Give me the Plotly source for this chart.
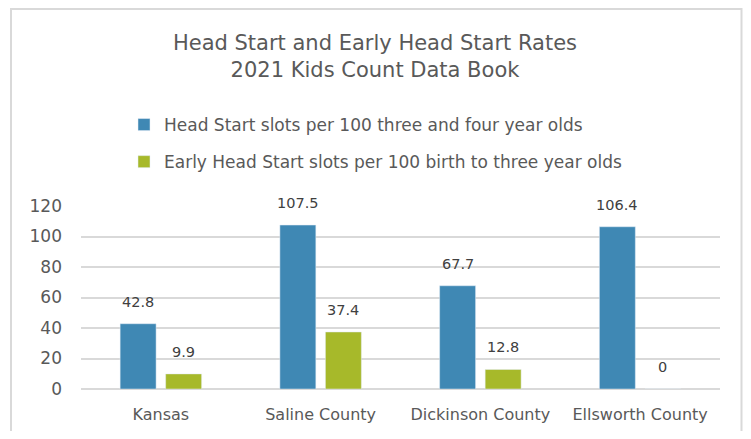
import plotly.graph_objects as go

categories = ["Kansas", "Saline County", "Dickinson County", "Ellsworth County"]
head_start = [42.8, 107.5, 67.7, 106.4]
early_head_start = [9.9, 37.4, 12.8, 0]
series_names = ["Head Start slots per 100 three and four year olds",
                "Early Head Start slots per 100 birth to three year olds"]
y_ticks = [0, 20, 40, 60, 80, 100, 120]

BLUE = "#3F88B4"
GREEN = "#A7B92A"
FONT = "DejaVu Sans"
GRAY = "#595959"

# page is offset by 8px (body margin); figure coords = page coords - 8
W, H = 735, 423
L, T, PB, PR = 73, 198, 381, 712  # plot area in figure px
PW, PH = PR - L, PB - T

fig = go.Figure()
fig.add_trace(go.Bar(x=categories, y=head_start, name=series_names[0],
                     marker=dict(color=BLUE), legendgroup="a"))
fig.add_trace(go.Bar(x=categories, y=early_head_start, name=series_names[1],
                     marker=dict(color=GREEN), legendgroup="b"))

annotations = []
for vals, shift in ((head_start, -22.75), (early_head_start, 22.75)):
    for c, v in zip(categories, vals):
        annotations.append(dict(x=c, y=v, xref="x", yref="y", text=f"{v:g}",
                                showarrow=False, xshift=shift, yshift=22,
                                yanchor="middle",
                                font=dict(family=FONT, size=14.5, color="#404040")))

fig.update_layout(
    width=W, height=H,
    margin=dict(l=L, r=W - PR, t=T, b=H - PB, autoexpand=False),
    paper_bgcolor="white", plot_bgcolor="white",
    barmode="group", bargap=0.43, bargroupgap=0.21,
    title=dict(text="Head Start and Early Head Start Rates<br>2021 Kids Count Data Book",
               x=(375 - 8) / W, xref="container", xanchor="center",
               y=1 - 42 / H, yref="container", yanchor="top",
               font=dict(family=FONT, size=21, color=GRAY)),
    legend=dict(orientation="v", x=(116 - L) / PW, xanchor="left", xref="paper",
                y=(PB - 99) / PH, yanchor="top", yref="paper",
                font=dict(family=FONT, size=17, color=GRAY),
                tracegroupgap=12, itemwidth=30, bgcolor="rgba(0,0,0,0)"),
    xaxis=dict(showgrid=False, showline=False, zeroline=False, automargin=False,
               tickfont=dict(family=FONT, size=16, color=GRAY),
               ticks="", ticklabelstandoff=14),
    yaxis=dict(range=[0, 120], tickvals=y_ticks, showgrid=True, automargin=False,
               gridcolor="#D9D9D9", gridwidth=1.5, zeroline=True,
               zerolinecolor="#D9D9D9", zerolinewidth=1.5, showline=False,
               tickfont=dict(family=FONT, size=17, color=GRAY),
               ticks="", ticklabelstandoff=18),
    annotations=annotations,
    shapes=[dict(type="rect", xref="paper", yref="paper",
                 x0=(3 - L) / PW, x1=(W - 1.5 - L) / PW,
                 y0=(PB - 460) / PH, y1=(PB - 1) / PH,
                 line=dict(color="#D9D9D9", width=2), fillcolor="rgba(0,0,0,0)",
                 layer="below")],
)

fig.write_html("out.html")
